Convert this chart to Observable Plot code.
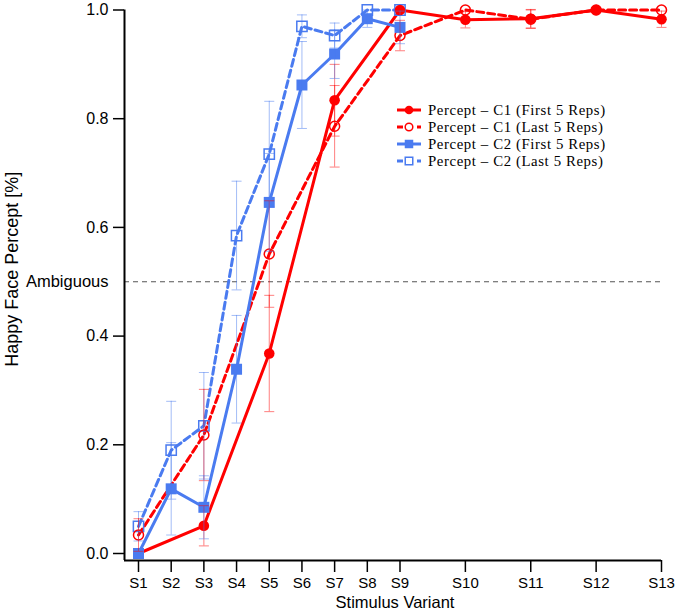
<!DOCTYPE html>
<html>
<head>
<meta charset="utf-8">
<script src="https://cdn.jsdelivr.net/npm/d3@7"></script>
<script src="https://cdn.jsdelivr.net/npm/@observablehq/plot@0.6"></script>
<style>
  html, body { margin: 0; padding: 0; background: #fff; }
  #wrap { position: relative; width: 675px; height: 611px; }
  #legend { position: absolute; left: 0; top: 0; }
</style>
</head>
<body>
<div id="wrap"></div>
<script>
// ---------- data ----------
const stimuli = ["S1","S2","S3","S4","S5","S6","S7","S8","S9","S10","S11","S12","S13"];
const stimulusIndex = [1, 2, 3, 4, 5, 6, 7, 8, 9, 11, 13, 15, 17];

const c1First    = [0, null, 0.051, null, 0.368, null, 0.834, null, 1.0, 0.982, 0.984, 1.0, 0.983];
const c1FirstErr = [0, null, 0.037, null, 0.107, null, 0.066, null, 0, 0.015, 0.017, 0, 0.015];
const c1Last     = [0.034, null, 0.218, null, 0.551, null, 0.786, null, 0.953, 1.0, 0.983, 1.0, 1.0];
const c1LastErr  = [0.03, null, 0.084, null, 0.098, null, 0.075, null, 0.028, 0, 0.017, 0, 0];
const c2First    = [0, 0.119, 0.085, 0.339, 0.646, 0.862, 0.919, 0.984, 0.968, null, null, null, null];
const c2FirstErr = [0, 0.085, 0.058, 0.099, 0.09, 0.08, 0.045, 0.016, 0.03, null, null, null, null];
const c2Last     = [0.05, 0.19, 0.235, 0.585, 0.735, 0.97, 0.953, 1.0, 1.0, null, null, null, null];
const c2LastErr  = [0.027, 0.09, 0.098, 0.1, 0.097, 0.021, 0.023, 0, 0, null, null, null, null];

const yTicks = [0, 0.2, 0.4, 0.6, 0.8, 1.0];
const ambiguousLevel = 0.5;

const seriesNames = [
  "Percept \u2013 C1 (First 5 Reps)",
  "Percept \u2013 C1 (Last 5 Reps)",
  "Percept \u2013 C2 (First 5 Reps)",
  "Percept \u2013 C2 (Last 5 Reps)"
];

// ---------- styles ----------
const RED = "#ff0000", BLUE = "#4a7bf0";
const series = [
  {name: seriesNames[0], vals: c1First, errs: c1FirstErr, color: RED,  dashed: false, symbol: "circle", filled: true,  r: 5.3},
  {name: seriesNames[1], vals: c1Last,  errs: c1LastErr,  color: RED,  dashed: true,  symbol: "circle", filled: false, r: 5.0},
  {name: seriesNames[2], vals: c2First, errs: c2FirstErr, color: BLUE, dashed: false, symbol: "square", filled: true,  r: 6.2},
  {name: seriesNames[3], vals: c2Last,  errs: c2LastErr,  color: BLUE, dashed: true,  symbol: "square", filled: false, r: 5.8}
];
series.forEach(s => {
  s.rows = stimuli.map((st, i) => ({stim: st, x: stimulusIndex[i], y: s.vals[i], err: s.errs[i]}))
                  .filter(d => d.y != null);
});

const capSymbol = {
  draw(ctx, size) {
    const w = Math.sqrt(size / Math.PI);
    ctx.moveTo(-w, 0); ctx.lineTo(w, 0);
  }
};

const W = 675, H = 611;
const mL = 124, mR = 14, mT = 9.5, mB = 51;
const xStep = (W - mR - (mL + 14)) / 16;
const xDomain = [1 - 14 / xStep, 17];
const yDomain = [-7 / 543.5, 1];

const font = "'Liberation Sans', Arial, Helvetica, sans-serif";

const marks = [];
// ambiguous dashed line
marks.push(Plot.ruleY([ambiguousLevel], {stroke: "#555", strokeWidth: 1, strokeDasharray: "5,4"}));
// lines (drawn in order: C2 last, C1 last, C1 first, C2 first)
const order = [3, 1, 0, 2];
for (const k of order) {
  const s = series[k];
  marks.push(Plot.line(s.rows, {x: "x", y: "y", stroke: s.color, strokeWidth: 3,
    strokeDasharray: s.dashed ? "7,4" : null}));
}
for (const k of order) {
  const s = series[k];
  marks.push(Plot.dot(s.rows, {x: "x", y: "y", symbol: s.symbol, r: s.r,
    fill: s.filled ? s.color : "none", stroke: s.color, strokeWidth: s.filled ? 0 : 1.5}));
}
// error bars
for (const k of order) {
  const s = series[k];
  const e = s.rows.filter(d => d.err > 0);
  marks.push(Plot.ruleX(e, {x: "x", y1: d => d.y - d.err, y2: d => d.y + d.err,
    stroke: s.color, strokeOpacity: 0.5, strokeWidth: 1}));
  marks.push(Plot.dot(e, {x: "x", y: d => d.y + d.err, symbol: capSymbol, r: 5,
    fill: "none", stroke: s.color, strokeOpacity: 0.5, strokeWidth: 1}));
  marks.push(Plot.dot(e, {x: "x", y: d => d.y - d.err, symbol: capSymbol, r: 5,
    fill: "none", stroke: s.color, strokeOpacity: 0.5, strokeWidth: 1}));
}
// axes
marks.push(Plot.ruleX([xDomain[0]], {stroke: "#000", strokeWidth: 2}));
marks.push(Plot.ruleY([yDomain[0]], {stroke: "#000", strokeWidth: 2}));
marks.push(Plot.axisY({ticks: yTicks, tickFormat: d3.format(".1f"), tickSize: 11, tickPadding: 5,
  strokeWidth: 1.5, fontSize: 16, label: null}));
marks.push(Plot.axisX({ticks: stimulusIndex, tickFormat: d => stimuli[stimulusIndex.indexOf(d)],
  tickSize: 12, tickPadding: 5, strokeWidth: 1.5, fontSize: 15, label: null}));
marks.push(Plot.text([ambiguousLevel], {y: d => d, frameAnchor: "left", dx: -16, textAnchor: "end",
  text: () => "Ambiguous", fontSize: 16.5}));
marks.push(Plot.text(["Happy Face Percept [%]"], {frameAnchor: "left", rotate: -90, dx: -112, dy: -16,
  textAnchor: "middle", lineAnchor: "middle", fontSize: 18}));
marks.push(Plot.text(["Stimulus Variant"], {frameAnchor: "bottom", dx: 2, dy: 42,
  textAnchor: "middle", lineAnchor: "middle", fontSize: 16.5}));

const chart = Plot.plot({
  width: W, height: H,
  marginLeft: mL, marginRight: mR, marginTop: mT, marginBottom: mB,
  x: {type: "linear", domain: xDomain, axis: null},
  y: {type: "linear", domain: yDomain, axis: null},
  style: {fontFamily: font, color: "#000", background: "#fff", overflow: "visible"},
  marks
});
const wrap = document.getElementById("wrap");
wrap.appendChild(chart);

// ---------- legend (overlay) ----------
const lg = d3.select(wrap).append("svg").attr("id", "legend")
  .attr("width", W).attr("height", H).style("pointer-events", "none");
const rowY = [110, 127, 144, 161];
series.forEach((s, i) => {
  const g = lg.append("g").attr("transform", `translate(0,${rowY[i]})`);
  g.append("line").attr("x1", 397).attr("x2", 421).attr("y1", 0).attr("y2", 0)
    .attr("stroke", s.color).attr("stroke-width", 3)
    .attr("stroke-dasharray", s.dashed ? "6,4" : null);
  if (s.symbol === "circle") {
    g.append("circle").attr("cx", 409).attr("cy", 0).attr("r", s.filled ? 4.3 : 3.8)
      .attr("fill", s.filled ? s.color : "#fff").attr("stroke", s.color)
      .attr("stroke-width", s.filled ? 0 : 1.5);
  } else {
    const a = s.filled ? 8.5 : 7.5;
    g.append("rect").attr("x", 409 - a / 2).attr("y", -a / 2).attr("width", a).attr("height", a)
      .attr("fill", s.filled ? s.color : "#fff").attr("stroke", s.color)
      .attr("stroke-width", s.filled ? 0 : 1.5);
  }
  g.append("text").attr("x", 428).attr("y", 0).attr("dy", "0.35em")
    .attr("font-family", "'Liberation Serif', 'Times New Roman', serif")
    .attr("font-size", 14.8).attr("letter-spacing", "0.6px")
    .attr("fill", "#000").text(s.name);
});
</script>
</body>
</html>
